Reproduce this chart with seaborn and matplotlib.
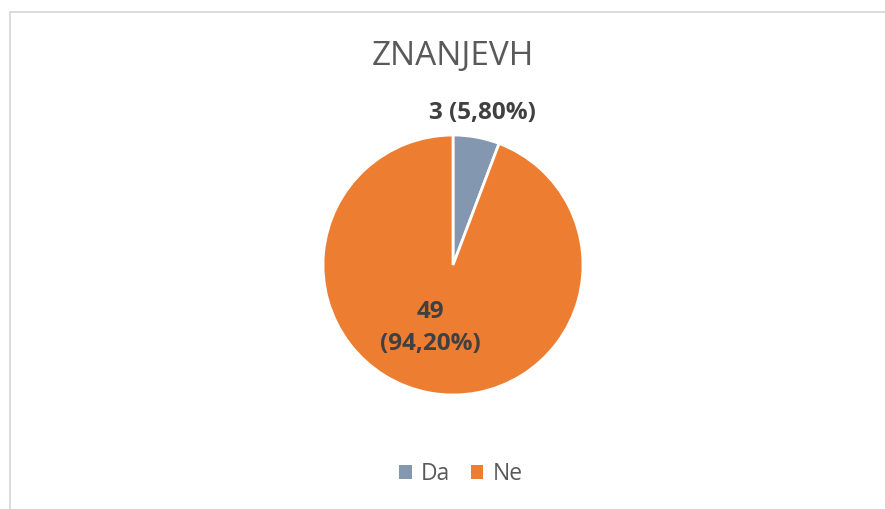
import numpy as np
import matplotlib
matplotlib.use("Agg")
import matplotlib.pyplot as plt
import seaborn as sns
from matplotlib.patches import Rectangle, Patch

# data
categories = ["Da", "Ne"]
counts = [3, 49]
percents = ["5,80%", "94,20%"]
title = "ZNANJEVH"

sns.set_theme(style="white")
plt.rcParams["font.family"] = ["Open Sans", "DejaVu Sans"]
colors = ["#8497B0", "#ED7D31"]

W, H = 885, 509
fig = plt.figure(figsize=(W / 100, H / 100), dpi=100)
ax = fig.add_axes([0, 0, 1, 1])
ax.set_xlim(0, W)
ax.set_ylim(0, H)
ax.set_aspect("equal")
ax.axis("off")

# chart border (runs off the right/bottom edge)
ax.add_patch(Rectangle((9.5, -20), W + 40, H - 12 + 20, fill=False,
                       edgecolor="#D9D9D9", lw=1.3))

cx, cy, r = 453, H - 265, 130
wedges, _ = ax.pie(counts, colors=colors, startangle=90, counterclock=False,
                   center=(cx, cy), radius=r,
                   wedgeprops=dict(edgecolor="white", linewidth=2))
ax.set_xlim(0, W)
ax.set_ylim(0, H)

ax.text(cx, H - 56, title, ha="center", va="center", fontsize=24, color="#595959")

lab_kw = dict(ha="center", va="center", fontsize=17.5, fontweight="bold", color="#404040")
ax.text(482, H - 113, f"{counts[0]} ({percents[0]})", **lab_kw)
ax.text(430, H - 328, f"{counts[1]}\n({percents[1]})", linespacing=1.4, **lab_kw)

handles = [Patch(facecolor=c, edgecolor="none") for c in colors]
fig.legend(handles, categories, loc="center", bbox_to_anchor=(461 / W, 1 - 474 / H),
           ncol=2, frameon=False, fontsize=16.5, labelcolor="#595959",
           handlelength=0.55, handleheight=0.55, handletextpad=0.4, columnspacing=0.9)

fig.savefig("out.png", dpi=100)
